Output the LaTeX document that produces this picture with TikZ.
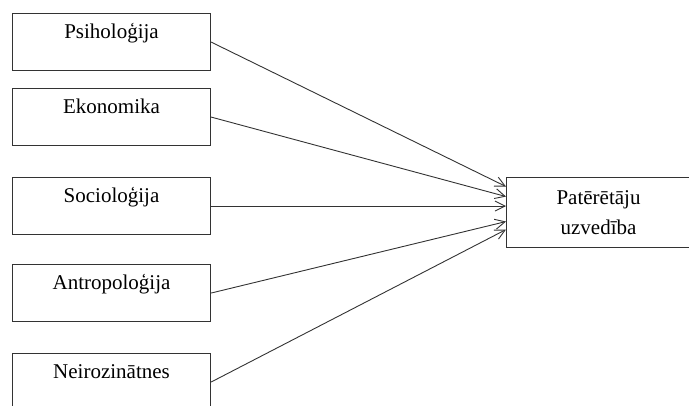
\documentclass[tikz,border=0pt]{standalone}
\usepackage{fontspec}
\setmainfont{Liberation Serif}
\usetikzlibrary{arrows.meta}
\begin{document}
\begin{tikzpicture}[x=1pt,y=-1pt,
  box/.style={draw=black!80, line width=1.1pt, minimum width=198pt, minimum height=57pt, inner sep=0pt, anchor=north west},
  lbl/.style={font=\fontsize{21}{30}\selectfont, anchor=base, inner sep=0pt},
  link/.style={draw=black!80, line width=0.9pt, -{Straight Barb[length=10pt,width=10pt,line width=0.9pt]}}]
  \useasboundingbox (0,0) rectangle (689,405);
  % source disciplines
  \node[box] (b1) at (12,13) {};
  \node[box] (b2) at (12,88) {};
  \node[box] (b3) at (12,177) {};
  \node[box] (b4) at (12,264) {};
  \node[box] (b5) at (12,353) {};
  \node[lbl] (t1) at ([yshift=-25pt]b1.north) {Psiholoģija};
  \node[lbl] (t2) at ([yshift=-25pt]b2.north) {Ekonomika};
  \node[lbl] (t3) at ([yshift=-25pt]b3.north) {Socioloģija};
  \node[lbl] (t4) at ([yshift=-25pt]b4.north) {Antropoloģija};
  \node[lbl] (t5) at ([yshift=-25pt]b5.north) {Neirozinātnes};
  % target
  \node[draw=black!80, line width=1.1pt, minimum width=184pt, minimum height=70pt, inner sep=0pt, anchor=north west,
        align=center, font=\fontsize{21}{30}\selectfont] (t) at (506,177) {Patērētāju\\uzvedība};
  % connectors
  \draw[link] (b1.east) -- ([yshift=26pt]t.west);
  \draw[link] (b2.east) -- ([yshift=16pt]t.west);
  \draw[link] (b3.east) -- (b3.east -| t.west);
  \draw[link] (b4.east) -- ([yshift=-9pt]t.west);
  \draw[link] (b5.east) -- ([yshift=-17pt]t.west);
\end{tikzpicture}
\end{document}
